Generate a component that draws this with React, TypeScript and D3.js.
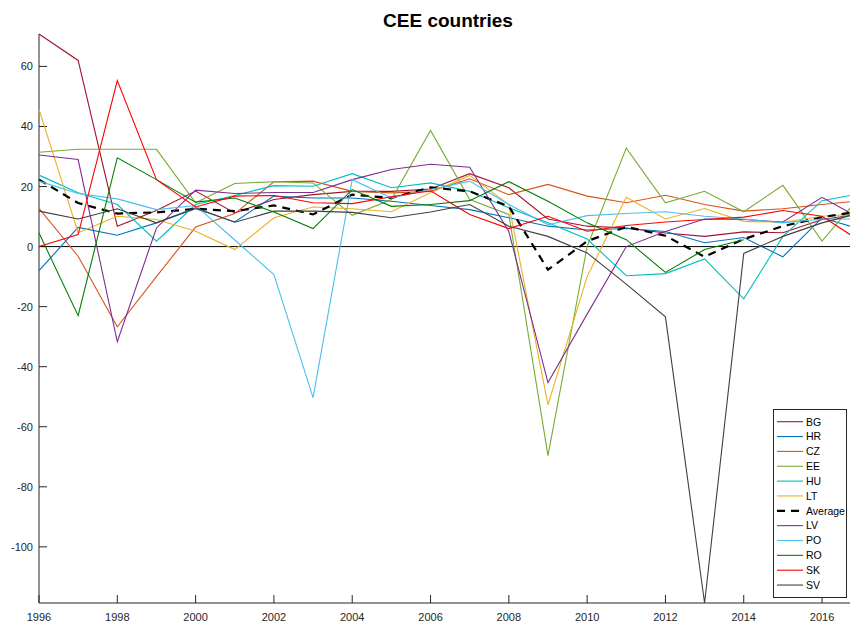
import React, { useEffect, useRef } from 'react';
import * as d3 from 'd3';

// years on the x axis
const years = [1996, 1997, 1998, 1999, 2000, 2001, 2002, 2003, 2004, 2005, 2006,
    2007, 2008, 2009, 2010, 2011, 2012, 2013, 2014, 2015, 2016, 2017];

// values, one per year
const BG = [70.8, 62, 6.8, 12, 18.5, 11.2, 15.7, 17.3, 18.4, 18.4, 19.2, 24.3, 19.6, 9.2, 6.8, 6.2, 4.5, 3.4, 4.9, 4.6, 9, 10.9];
const HR = [-8, 6.4, 3.8, 7.9, 12.6, 8.2, 16.8, 16.2, 16.2, 15.1, 13.7, 12.3, 9.6, 6.8, 5.5, 6, 5, 1.3, 3, -3.4, 9.6, 5.7];
const CZ = [12.7, -3.2, -26.7, -10, 6.5, 11, 21.6, 21.8, 18.4, 17.9, 18.4, 22.6, 17.3, 20.7, 16.8, 14.6, 17.1, 14, 11.8, 12.6, 14, 15.3];
const EE = [31.4, 32.4, 32.4, 32.4, 14.6, 21, 21.6, 21.2, 10.4, 15.7, 38.7, 15.7, 10.7, -69.6, 0, 32.8, 14.6, 18.4, 11.6, 20.4, 1.8, 17.2];
const HU = [23.8, 17.9, 14, 1.8, 14, 17, 20.3, 20.1, 24.3, 19.6, 21.2, 18.4, 12.9, 7.9, 2.5, -9.7, -9, -4.1, -17.4, 3.4, 15.3, 17.7];
const LT = [45.7, 4.6, 10.1, 9, 5.1, -1, 9.6, 13.2, 12.6, 11.6, 17.9, 23.7, 14, -52.7, -10, 16.4, 9.2, 12.7, 8.4, 8.1, 10.1, 10.9];
const Average = [22.3, 14.5, 11, 11.4, 12.6, 11.8, 13.7, 10.7, 17.3, 16.2, 19.7, 18.4, 13.4, -7.7, 1.8, 6.6, 3.6, -3.4, 2.5, 6.8, 9.8, 11.8];
const LV = [30.5, 29, -31.7, 6.2, 18.8, 17.7, 18, 18, 22.3, 25.7, 27.4, 26.4, 5, -45.3, -22.5, 0, 5, 9.2, 9, 8.2, 16.4, 9.2];
const PO = [21.8, 17.7, 15.9, 12.3, 13.7, 2.2, -9.3, -50.3, 22.3, 16.2, 19, 21.8, 14, 7.3, 10.3, 11, 11.6, 10.1, 9.2, 7.9, 9.2, 9.2];
const RO = [4.5, -23, 29.6, 22.3, 14.8, 16.2, 11.5, 6, 19, 13.4, 14, 15.3, 21.6, 15.1, 7.9, 2.3, -8.6, -1, 2.3, null, null, null];
const SK = [0, 4, 55.3, 22.3, 13.2, 16.8, 17, 14.6, 14.3, 16.6, 18.6, 10.7, 6, 10.1, 5.1, 7, 8.2, 9, 9.8, 12, 10.1, 1.6];
const SV = [11.8, 9.2, 12.6, 7.9, 12.9, 8.1, 11.8, 11.8, 11.4, 9.6, 11.5, 14, 6.8, 3.4, -2.1, -12.5, -23.4, -118.7, -2.3, 3.4, 7.9, 11.3];

const xTicks = [1996, 1998, 2000, 2002, 2004, 2006, 2008, 2010, 2012, 2014, 2016];
const yTicks = [60, 40, 20, 0, -20, -40, -60, -80, -100];

const series = [
    { name: 'BG', values: BG, color: '#A2142F' },
    { name: 'HR', values: HR, color: '#0072BD' },
    { name: 'CZ', values: CZ, color: '#D95319' },
    { name: 'EE', values: EE, color: '#77AC30' },
    { name: 'HU', values: HU, color: '#00BFBF' },
    { name: 'LT', values: LT, color: '#EDB120' },
    { name: 'Average', values: Average, color: '#000000', dashed: true },
    { name: 'LV', values: LV, color: '#7E2F8E' },
    { name: 'PO', values: PO, color: '#4DBEEE' },
    { name: 'RO', values: RO, color: '#008000' },
    { name: 'SK', values: SK, color: '#FF0000' },
    { name: 'SV', values: SV, color: '#404040' },
];

const width = 850;
const height = 624;
const axisColor = '#262626';
const font = '"Liberation Sans", Arial, sans-serif';

export default function App() {
    const svgRef = useRef<SVGSVGElement>(null);

    useEffect(() => {
        const svg = d3.select(svgRef.current);
        svg.selectAll('*').remove();

        // the axes run a bit past the right edge of the picture, which cuts them off
        const margins = { top: 34, bottom: 21, left: 39 };
        const x = d3.scaleLinear().domain([1996, 2017]).range([margins.left, 861.2]);
        const allValues = series.flatMap(s => s.values).filter(v => v != null) as number[];
        const y = d3.scaleLinear()
            .domain([d3.min(allValues) as number, d3.max(allValues) as number])
            .range([height - margins.bottom, margins.top]);
        const yBottom = y.range()[0];

        // title
        svg.append('text')
            .attr('x', 448).attr('y', 27)
            .attr('text-anchor', 'middle')
            .attr('font-family', font).attr('font-weight', 'bold').attr('font-size', 19)
            .attr('fill', '#000')
            .text('CEE countries');

        // axes lines
        svg.append('line')
            .attr('x1', margins.left).attr('x2', margins.left)
            .attr('y1', y.range()[1]).attr('y2', yBottom)
            .attr('stroke', axisColor);
        svg.append('line')
            .attr('x1', margins.left).attr('x2', width)
            .attr('y1', yBottom).attr('y2', yBottom)
            .attr('stroke', axisColor);

        // y ticks and labels
        const yg = svg.append('g');
        yg.selectAll('line').data(yTicks).enter().append('line')
            .attr('x1', margins.left).attr('x2', margins.left + 8)
            .attr('y1', d => y(d)).attr('y2', d => y(d))
            .attr('stroke', axisColor);
        yg.selectAll('text').data(yTicks).enter().append('text')
            .attr('x', margins.left - 6).attr('y', d => y(d) + 4)
            .attr('text-anchor', 'end')
            .attr('font-family', font).attr('font-size', 11).attr('fill', axisColor)
            .text(d => d);

        // x ticks and labels
        const xg = svg.append('g');
        xg.selectAll('line').data(xTicks).enter().append('line')
            .attr('x1', d => x(d)).attr('x2', d => x(d))
            .attr('y1', yBottom).attr('y2', yBottom - 8)
            .attr('stroke', axisColor);
        xg.selectAll('text').data(xTicks).enter().append('text')
            .attr('x', d => x(d)).attr('y', yBottom + 18)
            .attr('text-anchor', 'middle')
            .attr('font-family', font).attr('font-size', 11).attr('fill', axisColor)
            .text(d => d);

        // zero line
        svg.append('line')
            .attr('x1', margins.left).attr('x2', width)
            .attr('y1', y(0)).attr('y2', y(0))
            .attr('stroke', '#000');

        // series
        const line = d3.line<number | null>()
            .defined(d => d != null)
            .x((_, i) => x(years[i]))
            .y(d => y(d as number));
        series.forEach(s => {
            svg.append('path')
                .datum(s.values)
                .attr('d', line)
                .attr('fill', 'none')
                .attr('stroke', s.color)
                .attr('stroke-width', s.dashed ? 2.2 : 1.1)
                .attr('stroke-dasharray', s.dashed ? '8,6' : null);
        });

        // legend
        const lg = svg.append('g');
        lg.append('rect')
            .attr('x', 773.5).attr('y', 409.5).attr('width', 73).attr('height', 188)
            .attr('fill', '#fff').attr('stroke', axisColor);
        series.forEach((s, i) => {
            const ly = 421.7 + i * 14.85;
            lg.append('line')
                .attr('x1', 777).attr('x2', 803).attr('y1', ly).attr('y2', ly)
                .attr('stroke', s.color)
                .attr('stroke-width', s.dashed ? 2.2 : 1.1)
                .attr('stroke-dasharray', s.dashed ? '8,6' : null);
            lg.append('text')
                .attr('x', 806).attr('y', ly + 3.8)
                .attr('font-family', font).attr('font-size', 10.5).attr('fill', '#000')
                .text(s.name);
        });
    }, []);

    return (
        <svg ref={svgRef} width={width} height={height}
            style={{ position: 'absolute', left: 0, top: 0, background: '#fff', overflow: 'hidden' }} />
    );
}
